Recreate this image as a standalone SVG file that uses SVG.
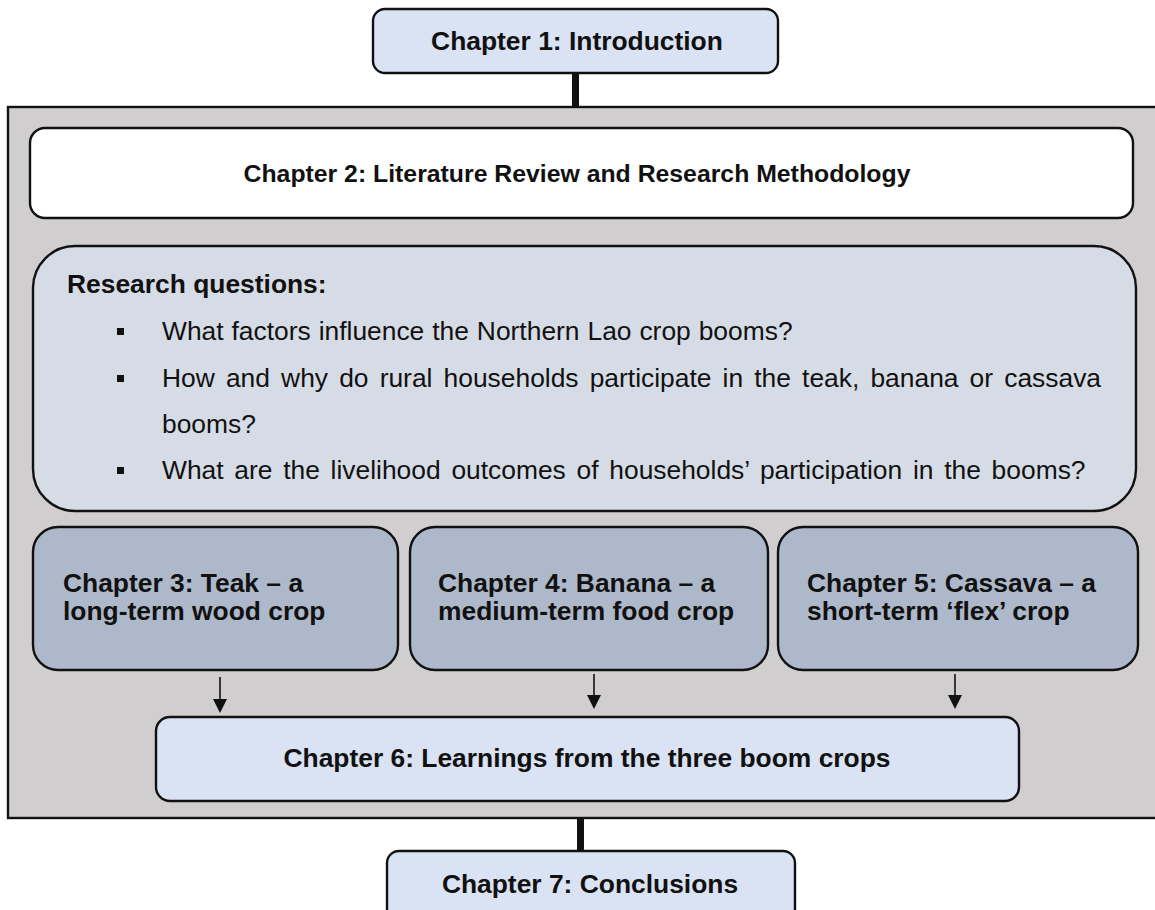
<svg xmlns="http://www.w3.org/2000/svg" width="1155" height="910" viewBox="0 0 1155 910">
  <style>
    .box { stroke: #111; stroke-width: 2.4; }
    .light { fill: #dae3f3; }
    .rq { fill: #d6dce5; }
    .crop { fill: #adb9ca; }
    .t { font-family: "Liberation Sans", Arial, sans-serif; font-size: 26.4px; fill: #111; }
    .b { font-weight: bold; }
    .mid { text-anchor: middle; }
    .bar { stroke: #111; stroke-width: 7; }
    .arr { stroke: #111; stroke-width: 1.6; fill: none; }
    .head { fill: #111; }
  </style>
  <rect width="1155" height="910" fill="#fff"/>

  <!-- outer panel holding chapters 2 to 6 -->
  <rect id="panel" x="8" y="107" width="1170" height="711" fill="#d0cece" class="box" stroke-width="2.6"/>

  <g id="connectors">
    <line class="bar" x1="575.5" y1="72" x2="575.5" y2="107"/>
    <line class="bar" x1="580.5" y1="818" x2="580.5" y2="852"/>
    <line class="arr" x1="220" y1="677" x2="220" y2="700"/>
    <path class="head" d="M213,699 L227,699 L220,713 Z"/>
    <line class="arr" x1="594" y1="674" x2="594" y2="696"/>
    <path class="head" d="M587,695 L601,695 L594,709 Z"/>
    <line class="arr" x1="955" y1="674" x2="955" y2="696"/>
    <path class="head" d="M948,695 L962,695 L955,709 Z"/>
  </g>

  <g id="ch1">
    <rect x="373" y="9" width="405" height="64" rx="12" class="box light"/>
    <text x="577" y="50" class="t b mid">Chapter 1: Introduction</text>
  </g>

  <g id="ch2">
    <rect x="30" y="128" width="1103" height="90" rx="15" class="box" fill="#fff"/>
    <text x="577" y="182" class="t b mid" style="font-size:24.8px">Chapter 2: Literature Review and Research Methodology</text>
  </g>

  <g id="questions">
    <rect x="33" y="246" width="1103" height="265" rx="42" class="box rq"/>
    <text x="67" y="293" class="t b">Research questions:</text>
    <rect x="117" y="328" width="7" height="7" fill="#111"/>
    <text x="162" y="340" class="t" word-spacing="0.6">What factors influence the Northern Lao crop booms?</text>
    <rect x="117" y="375" width="7" height="7" fill="#111"/>
    <text x="162" y="387" class="t" word-spacing="3.8">How and why do rural households participate in the teak, banana or cassava</text>
    <text x="162" y="433" class="t">booms?</text>
    <rect x="117" y="467" width="7" height="7" fill="#111"/>
    <text x="162" y="479" class="t" word-spacing="3.4">What are the livelihood outcomes of households’ participation in the booms?</text>
  </g>

  <g id="ch3">
    <rect x="33" y="527" width="365" height="143" rx="25" class="box crop"/>
    <text x="63" y="592" class="t b">Chapter 3: Teak – a</text>
    <text x="63" y="620" class="t b">long-term wood crop</text>
  </g>

  <g id="ch4">
    <rect x="410" y="527" width="358" height="143" rx="25" class="box crop"/>
    <text x="438" y="592" class="t b">Chapter 4: Banana – a</text>
    <text x="438" y="620" class="t b">medium-term food crop</text>
  </g>

  <g id="ch5">
    <rect x="778" y="527" width="360" height="143" rx="25" class="box crop"/>
    <text x="807" y="592" class="t b">Chapter 5: Cassava – a</text>
    <text x="807" y="620" class="t b">short-term ‘flex’ crop</text>
  </g>

  <g id="ch6">
    <rect x="156" y="717" width="863" height="84" rx="14" class="box light"/>
    <text x="587" y="767" class="t b mid">Chapter 6: Learnings from the three boom crops</text>
  </g>

  <g id="ch7">
    <rect x="387" y="851" width="408" height="75" rx="12" class="box light"/>
    <text x="590" y="893" class="t b mid">Chapter 7: Conclusions</text>
  </g>
</svg>
